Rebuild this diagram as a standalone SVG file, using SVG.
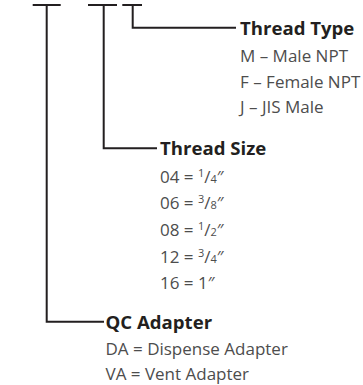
<svg xmlns="http://www.w3.org/2000/svg" width="363" height="385" viewBox="0 0 363 385">
<style>
.ln{stroke:#231f20;stroke-width:2;fill:none}
.h{font-family:"Open Sans","Noto Sans",sans-serif;font-weight:bold;font-size:18.6px;fill:#231f20}
.t{font-family:"Open Sans","Noto Sans",sans-serif;font-size:17px;fill:#4d4d4d}
.fr{font-size:11px}
</style>
<rect width="363" height="385" fill="#fff"/>
<g id="connectors">
<path class="ln" d="M32.7 5H60.7M46.7 5V321.7H104"/>
<path class="ln" d="M88 5H117M103.7 5V148.3H157"/>
<path class="ln" d="M122.3 5H142M132.7 5V27.7H236"/>
</g>
<g id="thread-type">
<text class="h" x="240" y="34.5">Thread Type</text>
<text class="t" x="240" y="61.7">M – Male NPT</text>
<text class="t" x="240" y="87.5">F – Female NPT</text>
<text class="t" x="240" y="113">J – JIS Male</text>
</g>
<g id="thread-size">
<text class="h" x="160" y="155">Thread Size</text>
<text class="t" x="160" y="182.7">04 = <tspan class="fr" dy="-6">1</tspan><tspan dy="6">/</tspan><tspan class="fr">4</tspan>″</text>
<text class="t" x="160" y="209">06 = <tspan class="fr" dy="-6">3</tspan><tspan dy="6">/</tspan><tspan class="fr">8</tspan>″</text>
<text class="t" x="160" y="236">08 = <tspan class="fr" dy="-6">1</tspan><tspan dy="6">/</tspan><tspan class="fr">2</tspan>″</text>
<text class="t" x="160" y="262.7">12 = <tspan class="fr" dy="-6">3</tspan><tspan dy="6">/</tspan><tspan class="fr">4</tspan>″</text>
<text class="t" x="160" y="289">16 = 1″</text>
</g>
<g id="qc-adapter">
<text class="h" x="105.5" y="329">QC Adapter</text>
<text class="t" x="105.5" y="355">DA = Dispense Adapter</text>
<text class="t" x="105.5" y="380">VA = Vent Adapter</text>
</g>
</svg>
